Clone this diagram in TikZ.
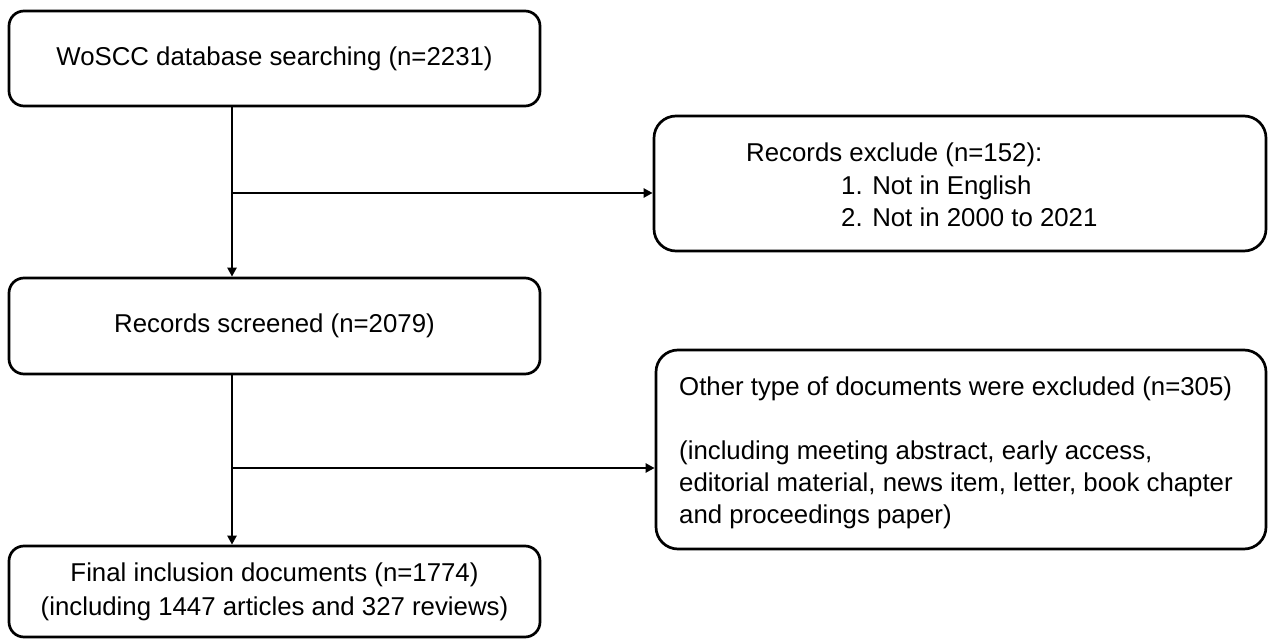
\documentclass[tikz,border=0pt]{standalone}
\usepackage{fontspec}
\setmainfont{Liberation Sans}
\usetikzlibrary{arrows.meta}
\begin{document}
\begin{tikzpicture}[x=1pt,y=-1pt,
  every node/.style={font=\fontsize{25.8}{32.5}\selectfont},
  lbox/.style={draw, line width=2.7pt, rounded corners=15pt, inner sep=0pt, align=center},
  rbox/.style={draw, line width=2.7pt, rounded corners=22pt, inner sep=0pt},
  txt/.style={anchor=base west, inner sep=0pt},
  conn/.style={line width=2.5pt},
  arr/.style={conn, -{Triangle[length=9pt,width=9pt]}}]
\useasboundingbox (0,0) rectangle (1269,639);
% left column boxes
\node[lbox, minimum width=531pt, minimum height=95pt] (b1) at (274.5,58.5) {WoSCC database searching (n=2231)};
\node[lbox, minimum width=531pt, minimum height=96pt] (b2) at (274.5,326) {Records screened (n=2079)};
\node[lbox, minimum width=531pt, minimum height=91pt, font=\fontsize{25.8}{34}\selectfont] (b3) at (274.5,591.5) {Final inclusion documents (n=1774)\\(including 1447 articles and 327 reviews)};
% right column boxes
\node[rbox, minimum width=612pt, minimum height=135pt] (e1) at (960,183.5) {};
\node[rbox, minimum width=610pt, minimum height=199pt] (e2) at (961,449.5) {};
% texts of right boxes
\node[txt] (e1a) at (746,162) {Records exclude (n=152):};
\node[txt] (e1b) at (841,194.5) {1. Not in English};
\node[txt] (e1c) at (841,227) {2. Not in 2000 to 2021};
\node[txt] (e2a) at (679,395) {Other type of documents were excluded (n=305)};
\node[txt] (e2b) at (679,459) {(including meeting abstract, early access,};
\node[txt] (e2c) at (679,491) {editorial material, news item, letter, book chapter};
\node[txt] (e2d) at (679,523) {and proceedings paper)};
% connectors
\coordinate (j1) at (232,193);
\coordinate (j2) at (232,468);
\draw[arr] (b1.south -| j1) -- (b2.north -| j1);
\draw[arr] (b2.south -| j2) -- (b3.north -| j2);
\draw[arr] (j1) -- (e1.west |- j1);
\draw[arr] (j2) -- (e2.west |- j2);
\end{tikzpicture}
\end{document}
